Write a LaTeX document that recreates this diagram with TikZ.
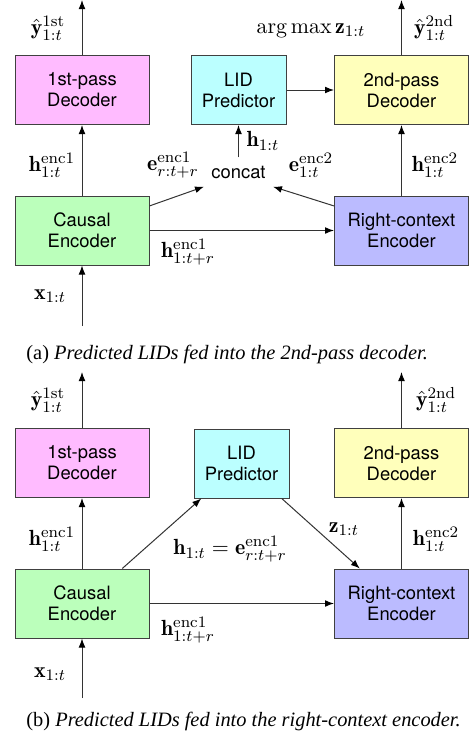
\documentclass[tikz,border=0pt]{standalone}
\usepackage{fontspec}
\setsansfont{TeX Gyre Heros}
\newfontfamily\capfont{Liberation Serif}
\usetikzlibrary{arrows.meta}
\definecolor{decone}{HTML}{FFBBFF}
\definecolor{lidcol}{HTML}{BBFFFF}
\definecolor{dectwo}{HTML}{FFFFBB}
\definecolor{enccol}{HTML}{BBFFBB}
\definecolor{rccol}{HTML}{BBBBFF}
\begin{document}
\begin{tikzpicture}[x=0.5pt,y=-0.5pt,
 module/.style={draw=black!75,line width=0.5pt,minimum width=67pt,minimum height=34.5pt,inner sep=0pt,align=center,font=\sffamily\fontsize{9.2}{10.5}\selectfont},
 lab/.style={inner sep=0pt,font=\fontsize{10.95}{13}\selectfont},
 link/.style={draw=black!80,line width=0.5pt,-{Latex[length=4.5pt,width=3.4pt,black]}},
 subcap/.style={anchor=west,inner sep=0pt,font=\capfont\fontsize{10.2}{12}\selectfont}]
 \useasboundingbox (0,0) rectangle (471,745);
 % (a)
 \node[module,fill=decone] (deconea) at (82,90) {1st-pass\\Decoder};
 \node[module,fill=lidcol,minimum width=47.5pt] (lida) at (238.5,90) {LID\\Predictor};
 \node[module,fill=dectwo] (dectwoa) at (401.5,90) {2nd-pass\\Decoder};
 \node[module,fill=enccol] (causala) at (82,230.5) {Causal\\Encoder};
 \node[module,fill=rccol] (righta) at (401.5,230.5) {Right-context\\Encoder};
 \node[inner xsep=3.5pt,inner ysep=4pt,font=\sffamily\fontsize{9.2}{10.5}\selectfont] (concat) at (238.5,172) {concat};
 \coordinate (outonea) at (82,0);
 \coordinate (outtwoa) at (401.5,0);
 \coordinate (ina) at (82,326);
 \draw[link] (deconea) -- (outonea);
 \draw[link] (dectwoa) -- (outtwoa);
 \draw[link] (ina) -- (causala);
 \draw[link] (causala) -- (deconea);
 \draw[link] (righta) -- (dectwoa);
 \draw[link] (lida) -- (dectwoa);
 \draw[link] (causala) -- (righta);
 \draw[link] (causala.20) -- (concat.south west);
 \draw[link] (righta.160) -- (concat.south east);
 \draw[link] (concat) -- (lida);
 \node[lab] (yonea) at (48,28) {$\hat{\mathbf{y}}_{1:t}^{\mathrm{1st}}$};
 \node[lab] (argmax) at (311,31) {$\arg\max\mathbf{z}_{1:t}$};
 \node[lab] (ytwoa) at (434,28) {$\hat{\mathbf{y}}_{1:t}^{\mathrm{2nd}}$};
 \node[lab] (honea) at (52,165) {$\mathbf{h}_{1:t}^{\mathrm{enc1}}$};
 \node[lab] (eone) at (173,165) {$\mathbf{e}_{r:t+r}^{\mathrm{enc1}}$};
 \node[lab] (hcat) at (263,141) {$\mathbf{h}_{1:t}$};
 \node[lab] (etwo) at (311,165) {$\mathbf{e}_{1:t}^{\mathrm{enc2}}$};
 \node[lab] (htwoa) at (435,165) {$\mathbf{h}_{1:t}^{\mathrm{enc2}}$};
 \node[lab] (hra) at (188,252) {$\mathbf{h}_{1:t+r}^{\mathrm{enc1}}$};
 \node[lab] (xa) at (50,296) {$\mathbf{x}_{1:t}$};
 \node[subcap] (capa) at (26,354) {(a) \textit{Predicted LIDs fed into the 2nd-pass decoder.}};
 % (b)
 \node[module,fill=decone] (deconeb) at (82,463) {1st-pass\\Decoder};
 \node[module,fill=lidcol,minimum width=47.5pt] (lidb) at (241.5,463.5) {LID\\Predictor};
 \node[module,fill=dectwo] (dectwob) at (401.5,463) {2nd-pass\\Decoder};
 \node[module,fill=enccol] (causalb) at (82,603.5) {Causal\\Encoder};
 \node[module,fill=rccol] (rightb) at (401.5,603.5) {Right-context\\Encoder};
 \coordinate (outoneb) at (82,372);
 \coordinate (outtwob) at (401.5,372);
 \coordinate (inb) at (82,698);
 \draw[link] (deconeb) -- (outoneb);
 \draw[link] (dectwob) -- (outtwob);
 \draw[link] (inb) -- (causalb);
 \draw[link] (causalb) -- (deconeb);
 \draw[link] (rightb) -- (dectwob);
 \draw[link] (causalb) -- (rightb);
 \draw[link] (causalb.41) -- (lidb.221);
 \draw[link] (lidb.319) -- (rightb.140);
 \node[lab] (yoneb) at (48,400) {$\hat{\mathbf{y}}_{1:t}^{\mathrm{1st}}$};
 \node[lab] (ytwob) at (436,400) {$\hat{\mathbf{y}}_{1:t}^{\mathrm{2nd}}$};
 \node[lab] (honeb) at (52,539) {$\mathbf{h}_{1:t}^{\mathrm{enc1}}$};
 \node[lab] (heq) at (230,549) {$\mathbf{h}_{1:t}=\mathbf{e}_{r:t+r}^{\mathrm{enc1}}$};
 \node[lab] (zb) at (344,529) {$\mathbf{z}_{1:t}$};
 \node[lab] (htwob) at (436,539) {$\mathbf{h}_{1:t}^{\mathrm{enc2}}$};
 \node[lab] (hrb) at (188,630) {$\mathbf{h}_{1:t+r}^{\mathrm{enc1}}$};
 \node[lab] (xb) at (50,674) {$\mathbf{x}_{1:t}$};
 \node[subcap] (capb) at (26,721) {(b) \textit{Predicted LIDs fed into the right-context encoder.}};
\end{tikzpicture}
\end{document}
